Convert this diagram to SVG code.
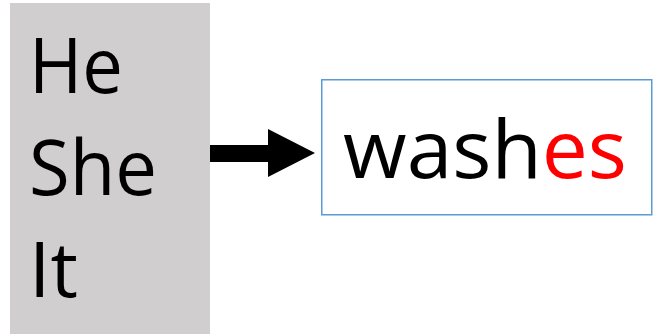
<svg xmlns="http://www.w3.org/2000/svg" width="656" height="334" viewBox="0 0 656 334">
<style>
.t{font-family:"Open Sans","Noto Sans","DejaVu Sans",sans-serif;fill:#000}
</style>
<rect width="656" height="334" fill="#fff"/>
<g id="pronouns">
<rect x="10" y="3" width="200" height="331" fill="#d0cecf"/>
<text class="t" x="29" y="93" font-size="77" textLength="94" lengthAdjust="spacingAndGlyphs">He</text>
<text class="t" x="29" y="195" font-size="77" textLength="128" lengthAdjust="spacingAndGlyphs">She</text>
<text class="t" x="29" y="297" font-size="77">It</text>
</g>
<g id="verb">
<rect x="321.75" y="79.75" width="330" height="135" fill="#fff" stroke="#5b9bd5" stroke-width="1.5"/>
<text class="t" x="343" y="178" font-size="80" textLength="284" lengthAdjust="spacingAndGlyphs">wash<tspan fill="#ff0000">es</tspan></text>
</g>
<g id="connectors">
<polygon points="210,145 268,145 268,129 315,153 268,177 268,162 210,162" fill="#000"/>
</g>
</svg>
